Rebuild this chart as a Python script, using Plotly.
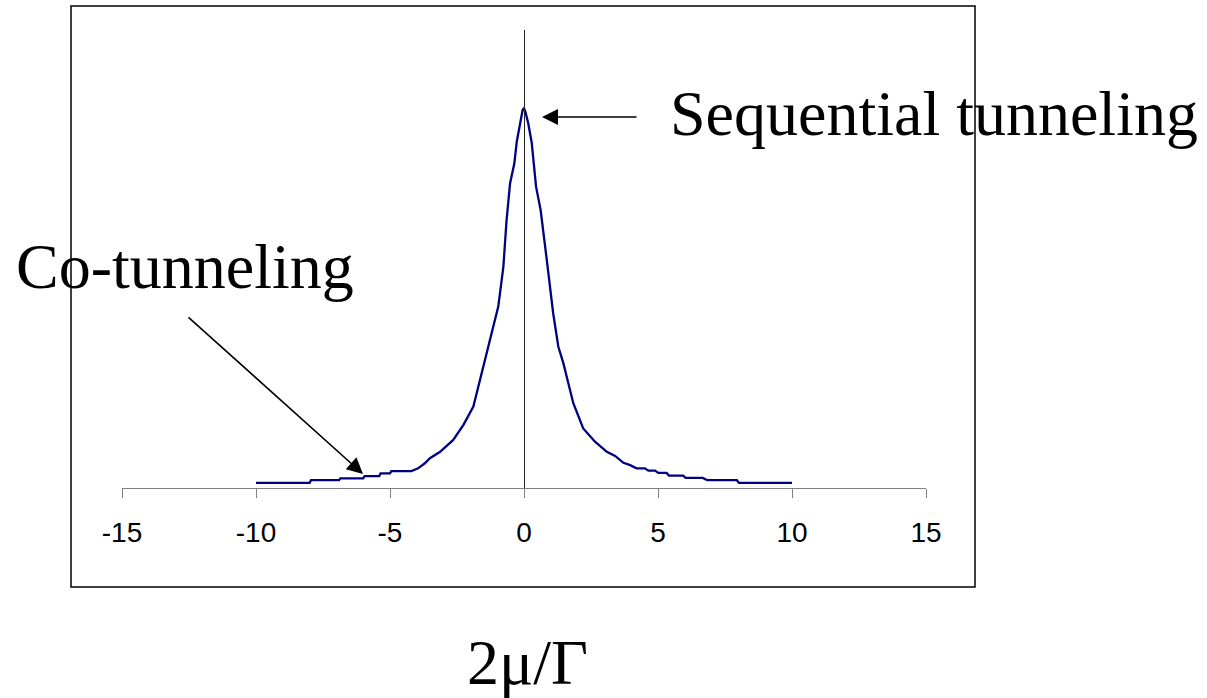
import plotly.graph_objects as go

# x = 2mu/Gamma, y = relative conductance (axis units 0..1)
mu_left = [-10, -8.0, -7.95, -6.9, -6.85, -6.0, -5.95, -5.4, -5.35, -5.0, -4.95, -4.2,
           -3.95, -3.7, -3.51, -3.13, -2.64, -2.26, -1.89, -1.58, -1.33, -1.21, -0.96,
           -0.77, -0.65, -0.52, -0.36, -0.27, -0.19, -0.12, -0.05, 0.0]
g_left = [0.011, 0.011, 0.017, 0.017, 0.021, 0.021, 0.026, 0.026, 0.032, 0.032, 0.037, 0.037,
          0.043, 0.054, 0.065, 0.079, 0.105, 0.138, 0.178, 0.250, 0.309, 0.338, 0.396,
          0.483, 0.585, 0.665, 0.709, 0.756, 0.782, 0.812, 0.826, 0.829]
mu_right = [0.05, 0.16, 0.29, 0.45, 0.62, 0.85, 1.09, 1.28, 1.47, 1.84, 2.21, 2.65, 3.09,
            3.40, 3.71, 3.96, 4.2, 4.51, 4.64, 4.89, 5.01, 5.32, 5.41, 5.94, 6.03, 6.67,
            6.84, 7.94, 8.02, 10]
g_right = [0.822, 0.796, 0.753, 0.658, 0.607, 0.498, 0.381, 0.309, 0.272, 0.185, 0.130,
           0.101, 0.079, 0.070, 0.055, 0.050, 0.043, 0.043, 0.038, 0.038, 0.033, 0.033,
           0.027, 0.027, 0.022, 0.022, 0.017, 0.017, 0.011, 0.011]

mu = mu_left + mu_right
g = g_left + g_right

x_ticks = [-15, -10, -5, 0, 5, 10, 15]

W, H = 1207, 698
L, R, T, B = 122, 926, 30, 488  # plot area pixels


def px(xp):
    return (xp - L) / (R - L)


def py(yp):
    return (B - yp) / (B - T)


fig = go.Figure()
fig.add_trace(go.Scatter(x=mu, y=g, mode="lines",
                         line=dict(color="#000080", width=2.3),
                         showlegend=False, hoverinfo="skip"))

fig.update_layout(
    width=W, height=H,
    margin=dict(l=L, r=W - R, t=T, b=H - B, pad=0),
    paper_bgcolor="white", plot_bgcolor="white",
    xaxis=dict(range=[-15, 15], tickvals=x_ticks, ticktext=[str(v) for v in x_ticks],
               showgrid=False, zeroline=False, showline=True, linecolor="#808080",
               linewidth=1.3, ticks="outside", ticklen=9, tickwidth=1.3,
               tickcolor="#808080", ticklabelstandoff=10,
               tickfont=dict(family="Liberation Sans, Arial", size=28, color="black")),
    yaxis=dict(range=[0, 1], showgrid=False, zeroline=False, showline=True,
               linecolor="#202020", linewidth=1.1, showticklabels=False, ticks="",
               anchor="free", position=0.5),
    font=dict(family="Liberation Serif, Times New Roman", color="black"),
)

# outer frame
fig.add_shape(type="rect", xref="paper", yref="paper",
              x0=px(71), x1=px(975), y0=py(587), y1=py(6),
              line=dict(color="black", width=1.5), fillcolor="rgba(0,0,0,0)")

serif = dict(family="Liberation Serif, Times New Roman", size=64, color="black")
fig.add_annotation(xref="paper", yref="paper", x=px(668), y=py(113),
                   xanchor="left", yanchor="middle", text="Sequential tunneling",
                   showarrow=False, font=serif)
fig.add_annotation(xref="paper", yref="paper", x=px(14), y=py(266),
                   xanchor="left", yanchor="middle", text="Co-tunneling",
                   showarrow=False, font=serif)
fig.add_annotation(xref="paper", yref="paper", x=px(527), y=py(662),
                   xanchor="center", yanchor="middle", text="2μ/Γ",
                   showarrow=False, font=serif)

# arrows
fig.add_annotation(xref="paper", yref="paper", x=px(542), y=py(117), ax=96, ay=0,
                   text="", showarrow=True, arrowhead=2, arrowsize=2.0,
                   arrowwidth=1.6, arrowcolor="black", standoff=0)
fig.add_annotation(xref="paper", yref="paper", x=px(363), y=py(474), ax=-176, ay=-158,
                   text="", showarrow=True, arrowhead=2, arrowsize=2.0,
                   arrowwidth=1.6, arrowcolor="black", standoff=0)

fig.write_html("out.html", config={"displayModeBar": False},
               post_script="document.body.style.margin='0';document.body.style.overflow='hidden';")
